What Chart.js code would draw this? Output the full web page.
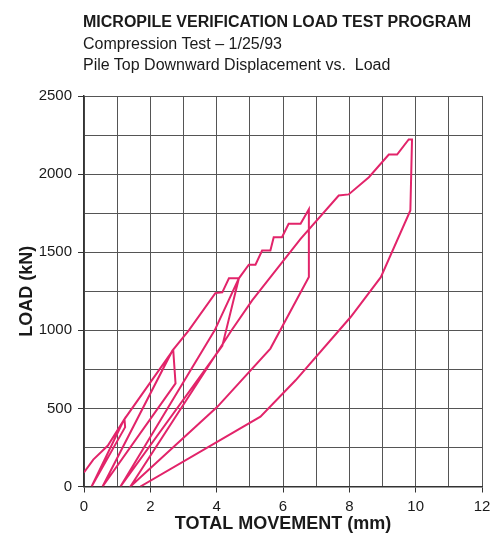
<!DOCTYPE html>
<html>
<head>
<meta charset="utf-8">
<script src="https://cdn.jsdelivr.net/npm/chart.js@4.4.1/dist/chart.umd.min.js"></script>
<style>
  html, body { margin: 0; padding: 0; background: #fff; }
  #wrap { position: relative; width: 490px; height: 536px; }
  canvas { position: absolute; left: 0; top: 0; }
  .t { position: absolute; left: 83px; font-family: "Liberation Sans", Arial, sans-serif; color: #1a1a1a; line-height: 1; white-space: nowrap; }
  #title { top: 14px; font-size: 16px; font-weight: bold; }
  #sub1 { top: 36px; font-size: 16px; }
  #sub2 { top: 57px; font-size: 16px; }
</style>
</head>
<body>
<div id="wrap">
  <canvas id="c" width="490" height="536"></canvas>
  <div class="t" id="title">MICROPILE VERIFICATION LOAD TEST PROGRAM</div>
  <div class="t" id="sub1">Compression Test – 1/25/93</div>
  <div class="t" id="sub2">Pile Top Downward Displacement vs.&nbsp; Load</div>
</div>
<script>
// Total movement (mm) along the test record, in order
const movement = [
  0.00, 0.28, 0.72, 1.22, 1.24, 0.23,
  1.20, 2.69, 2.76, 0.56,
  2.66, 3.16, 3.96, 4.17, 4.37, 4.67, 4.17, 1.10,
  3.94, 4.67, 4.97, 5.17, 5.37, 5.62, 5.72, 5.97, 6.17, 6.53, 6.78, 6.78, 5.62, 4.02, 1.40,
  4.45, 5.07, 6.53, 7.68, 7.98, 8.59, 9.19, 9.44, 9.79, 9.89, 9.84, 8.95, 8.04, 6.38, 5.32, 1.70
];
// Load (kN) at each of those points
const load = [
  90, 172, 262, 432, 380, 0,
  425, 874, 660, 0,
  868, 1000, 1238, 1243, 1333, 1333, 900, 0,
  1000, 1333, 1420, 1420, 1511, 1511, 1596, 1596, 1682, 1682, 1775, 1341, 883, 510, 0,
  1000, 1192, 1586, 1863, 1870, 1980, 2125, 2125, 2222, 2222, 1767, 1340, 1085, 680, 447, 0
];
const xTickLabels = [0, 2, 4, 6, 8, 10, 12];
const yTickLabels = [0, 500, 1000, 1500, 2000, 2500];

const points = movement.map((x, i) => ({ x: x, y: load[i] }));
const fontFam = "'Liberation Sans', Arial, sans-serif";

new Chart(document.getElementById('c'), {
  type: 'scatter',
  data: {
    datasets: [{
      data: points,
      showLine: true,
      borderColor: '#e2246a',
      borderWidth: 2,
      pointRadius: 0,
      tension: 0,
      fill: false
    }]
  },
  options: {
    responsive: false,
    animation: false,
    devicePixelRatio: 1,
    layout: { padding: { left: 0, top: 96, right: 0, bottom: 0 } },
    plugins: { legend: { display: false }, tooltip: { enabled: false } },
    scales: {
      x: {
        type: 'linear', min: 0, max: 12,
        afterFit: s => { s.height = 49.5; s.paddingRight = 8; s.paddingLeft = 0; },
        ticks: {
          stepSize: 1, autoSkip: false, maxRotation: 0, padding: 5,
          color: '#1a1a1a', font: { family: fontFam, size: 15 },
          callback: v => xTickLabels.includes(v) ? String(v) : ''
        },
        grid: {
          color: '#555', lineWidth: 1, tickLength: 6,
          tickColor: ctx => (ctx.tick && xTickLabels.includes(ctx.tick.value)) ? '#333' : 'rgba(0,0,0,0)'
        },
        border: { display: true, color: '#333', width: 1.5 },
        title: {
          display: true, text: 'TOTAL MOVEMENT (mm)', color: '#1a1a1a',
          font: { family: fontFam, size: 18, weight: 'bold' },
          padding: { top: 0, bottom: 1 }
        }
      },
      y: {
        type: 'linear', min: 0, max: 2500,
        afterFit: s => { s.width = 84; },
        ticks: {
          stepSize: 250, autoSkip: false, padding: 6,
          color: '#1a1a1a', font: { family: fontFam, size: 15 },
          callback: v => yTickLabels.includes(v) ? String(v) : ''
        },
        grid: {
          color: '#555', lineWidth: 1, tickLength: 6,
          tickColor: ctx => (ctx.tick && yTickLabels.includes(ctx.tick.value)) ? '#333' : 'rgba(0,0,0,0)'
        },
        border: { display: true, color: '#333', width: 1.5 },
        title: {
          display: true, text: 'LOAD (kN)', color: '#1a1a1a',
          font: { family: fontFam, size: 18, weight: 'bold' },
          padding: { top: 16, bottom: 0 }
        }
      }
    }
  }
});
</script>
</body>
</html>
